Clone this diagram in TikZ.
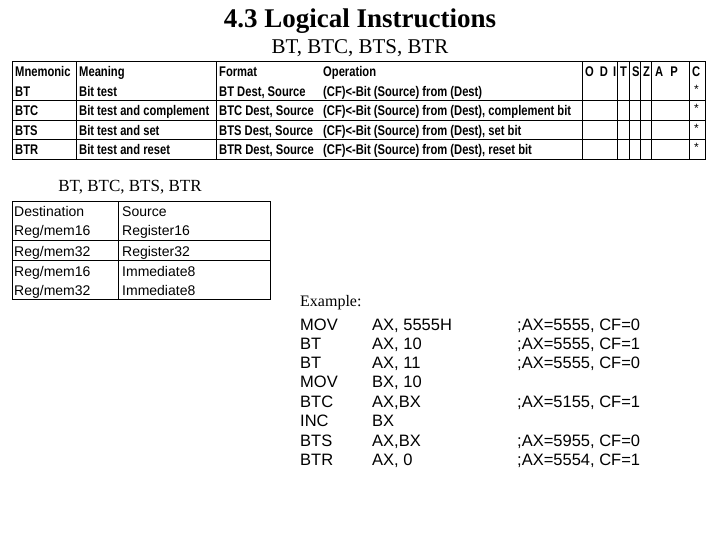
\documentclass[tikz,border=0pt]{standalone}
\usepackage{fontspec}
\setmainfont{Liberation Serif}
\setsansfont{Liberation Sans}
\newfontfamily\narrowf[FakeStretch=0.8]{Liberation Sans}
\begin{document}
\begin{tikzpicture}[x=1pt,y=-1pt,
  tb/.style={anchor=base west,inner sep=0pt,font=\narrowf\bfseries\fontsize{14}{15}\selectfont},
  t2/.style={anchor=base west,inner sep=0pt,font=\sffamily\fontsize{14}{15}\selectfont},
  ex/.style={anchor=base west,inner sep=0pt,font=\sffamily\fontsize{16.5}{17}\selectfont},
  grid/.style={line width=1pt}]
\useasboundingbox (0,0) rectangle (720,540);
\node (title) at (360,21) {\bfseries\fontsize{27}{30}\selectfont 4.3 Logical Instructions};
\node (sub) at (360,48) {\fontsize{21}{23}\selectfont BT, BTC, BTS, BTR};
% table 1
\draw[grid] (12,62) rectangle (705,160);
\foreach \y in {101,121,140} \draw[grid] (12,\y) -- (705,\y);
\foreach \x in {76,216,582,617,629,640,651,689} \draw[grid] (\x,62) -- (\x,160);
\foreach \r/\y/\a/\b/\c/\d/\s in {
  0/77/Mnemonic/Meaning/Format/Operation/{},
  1/97/BT/Bit test/{BT Dest, Source}/{(CF)<-Bit (Source) from (Dest)}/*,
  2/116/BTC/Bit test and complement/{BTC Dest, Source}/{(CF)<-Bit (Source) from (Dest), complement bit}/*,
  3/136/BTS/Bit test and set/{BTS Dest, Source}/{(CF)<-Bit (Source) from (Dest), set bit}/*,
  4/155/BTR/Bit test and reset/{BTR Dest, Source}/{(CF)<-Bit (Source) from (Dest), reset bit}/*}{
  \node[tb] (m\r) at (15,\y) {\a};
  \node[tb] (n\r) at (79,\y) {\b};
  \node[tb] (f\r) at (219,\y) {\c};
  \node[tb] (o\r) at (323,\y) {\d};
  \node[tb,font=\sffamily\fontsize{12}{12}\selectfont] (s\r) at (694,\y-3) {\s};
}
\node[tb] (fl) at (585,77) {O\hspace{6pt}D\hspace{5pt}I};
\node[tb] (ft) at (620,77) {T};
\node[tb] (fs) at (632,77) {S};
\node[tb] (fz) at (643,77) {Z};
\node[tb] (fa) at (655,77) {A\hspace{7pt}P};
\node[tb] (fc) at (692,77) {C};
% second heading
\node (sub2) at (130,187) {\fontsize{17}{19}\selectfont BT, BTC, BTS, BTR};
% table 2
\draw[grid] (12,202) rectangle (270,299);
\draw[grid] (118,202) -- (118,299);
\draw[grid] (12,240) -- (270,240);
\draw[grid] (12,260) -- (270,260);
\foreach \r/\y/\a/\b in {0/217/Destination/Source,1/236/{Reg/mem16}/Register16,2/256/{Reg/mem32}/Register32,3/276/{Reg/mem16}/Immediate8,4/295/{Reg/mem32}/Immediate8}{
  \node[t2] (d\r) at (14,\y) {\a};
  \node[t2] (c\r) at (122,\y) {\b};
}
% example
\node[anchor=base west,inner sep=0pt,font=\fontsize{16}{17}\selectfont] (exh) at (300,306) {Example:};
\foreach \r/\y/\a/\b/\c in {1/330/MOV/{AX, 5555H}/{;AX=5555, CF=0},2/349/BT/{AX, 10}/{;AX=5555, CF=1},3/368/BT/{AX, 11}/{;AX=5555, CF=0},4/387/MOV/{BX, 10}/{},5/407/BTC/{AX,BX}/{;AX=5155, CF=1},6/426/INC/BX/{},7/446/BTS/{AX,BX}/{;AX=5955, CF=0},8/465/BTR/{AX, 0}/{;AX=5554, CF=1}}{
  \node[ex] (e\r) at (300,\y) {\a};
  \node[ex] (g\r) at (372,\y) {\b};
  \node[ex] (h\r) at (517,\y) {\c};
}
\end{tikzpicture}
\end{document}
